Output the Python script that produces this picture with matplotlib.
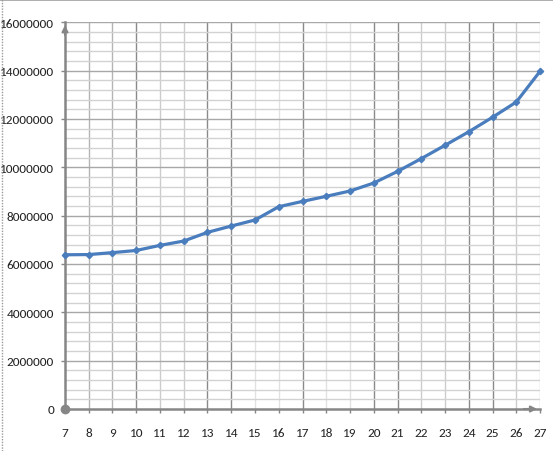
import matplotlib
matplotlib.use("Agg")
import matplotlib.pyplot as plt
from matplotlib.lines import Line2D
import numpy as np

years = [7, 8, 9, 10, 11, 12, 13, 14, 15, 16, 17, 18, 19, 20, 21, 22, 23, 24, 25, 26, 27]
values = [6380000, 6390000, 6470000, 6560000, 6770000, 6950000, 7310000, 7570000,
          7820000, 8370000, 8590000, 8800000, 9020000, 9350000, 9830000, 10360000,
          10910000, 11470000, 12070000, 12700000, 13970000]
y_ticks = [0, 2000000, 4000000, 6000000, 8000000, 10000000, 12000000, 14000000, 16000000]

plt.rcParams['font.family'] = ['Carlito', 'Liberation Sans', 'DejaVu Sans']

fig = plt.figure(figsize=(5.53, 4.52), dpi=100)
ax = fig.add_axes([65/553, 1-410/452, (540-65)/553, (410-23.3)/452])

ax.set_xlim(7, 27)
ax.set_ylim(0, 16000000)

# grid: vertical lines with varying shade (mimicking reference rendering)
dark = {10, 13, 14, 17, 20, 21, 24, 25}
medium = {8, 9}
vlight = {15, 16, 18, 19}
for x in years[1:]:
    if x in dark:
        c = '#8a8a8a'
    elif x in medium:
        c = '#b4b4b4'
    elif x in vlight:
        c = '#e2e2e2'
    else:
        c = '#cccccc'
    ax.axvline(x, color=c, lw=1.0, zorder=1)

for yv in np.arange(400000, 16000001, 400000):
    if int(round(yv)) % 2000000 == 0:
        c = '#a8a8a8'
    else:
        c = '#d2d2d2'
    ax.axhline(yv, color=c, lw=1.0, zorder=1)

ax.plot(years, values, color='#4a7dbd', lw=2.3, marker='D', markersize=3.2,
        markerfacecolor='#4a7dbd', markeredgecolor='#4a7dbd', zorder=5, clip_on=False)

for s in ['top', 'right']:
    ax.spines[s].set_visible(False)
for s in ['left', 'bottom']:
    ax.spines[s].set_color('#868686')
    ax.spines[s].set_linewidth(1.8)
    ax.spines[s].set_zorder(4)

ax.set_xticks(years)
ax.set_xticklabels([str(y) for y in years])
ax.set_yticks(y_ticks)
ax.set_yticklabels([str(v) for v in y_ticks])
ax.tick_params(axis='x', length=3, width=1, color='#868686', pad=10, labelsize=9.5, labelcolor='#222222')
ax.tick_params(axis='y', length=3, width=1, color='#868686', pad=5, labelsize=9.5, labelcolor='#222222')

# arrows at axis ends
ax.annotate('', xy=(0, 1.0), xytext=(0, 0.96), xycoords='axes fraction',
            arrowprops=dict(arrowstyle='-|>', color='#868686', lw=1.5, mutation_scale=9),
            annotation_clip=False)
ax.annotate('', xy=(1.0, 0), xytext=(0.96, 0), xycoords='axes fraction',
            arrowprops=dict(arrowstyle='-|>', color='#868686', lw=1.5, mutation_scale=9),
            annotation_clip=False)
ax.plot([7], [0], marker='o', color='#868686', markersize=6, clip_on=False, zorder=6)

# border lines at the top and left of the image
fig.add_artist(Line2D([0, 1], [0.997, 0.997], transform=fig.transFigure,
                      color='#a0a0a0', lw=1.2))
fig.add_artist(Line2D([0.003, 0.003], [0, 1], transform=fig.transFigure,
                      color='#9a9a9a', lw=1.0, linestyle=(0, (1, 1))))

fig.savefig('out.png', dpi=100)
